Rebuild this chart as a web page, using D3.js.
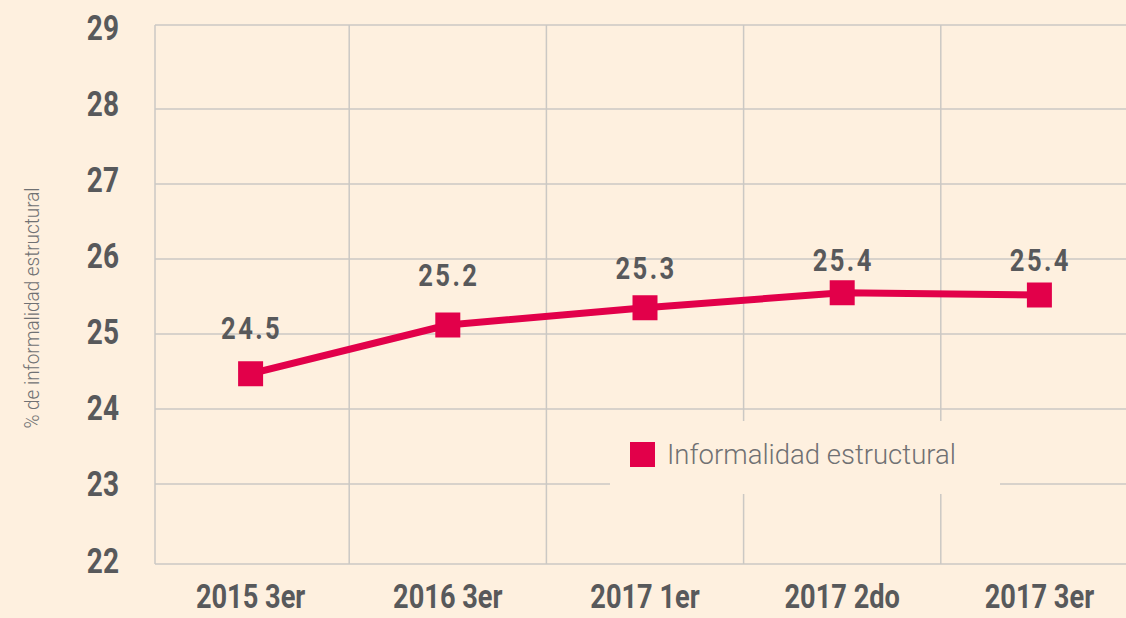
<!DOCTYPE html>
<html><head><meta charset="utf-8">
<script src="https://cdn.jsdelivr.net/npm/d3@7"></script>
<style>
html,body{margin:0;padding:0;background:#fef0df;}
svg{display:block;}
</style></head>
<body>
<svg id="chart" width="1126" height="618"></svg>
<script>
const categories = ["2015 3er","2016 3er","2017 1er","2017 2do","2017 3er"];
const values = [24.47, 25.12, 25.35, 25.55, 25.52];
const valueLabels = ["24.5","25.2","25.3","25.4","25.4"];
const yTicks = [22,23,24,25,26,27,28,29];
const seriesName = "Informalidad estructural";
const yTitle = "% de informalidad estructural";

const W = 1126, H = 618;
const bg = "#fef0df", red = "#e2004a", grid = "#cbc8c4", textDark = "#58595b", textLight = "#707173";
const condFont = "Roboto, 'DejaVu Sans Condensed', sans-serif";
const sx = 0.8;
const svg = d3.select("#chart");
svg.append("rect").attr("width", W).attr("height", H).attr("fill", bg);

const x = d3.scaleBand().domain(categories).range([152, 1138]).padding(0);
const y = d3.scaleLinear().domain([22, 29]).range([559, 34]);
const yLab = d3.scaleLinear().domain([22, 29]).range([560, 27]);
const frameLeft = 155, frameTop = 25, frameBottom = 564;
const cx = c => x(c) + x.bandwidth() / 2;

// horizontal gridlines
svg.append("g").selectAll("line").data(yTicks.filter(t => t > 22 && t < 29)).join("line")
  .attr("x1", frameLeft).attr("x2", W).attr("y1", d => y(d)).attr("y2", d => y(d))
  .attr("stroke", grid).attr("stroke-width", 1.5);
[frameTop, frameBottom].forEach(v => svg.append("line").attr("x1", frameLeft).attr("x2", W)
  .attr("y1", v).attr("y2", v).attr("stroke", grid).attr("stroke-width", 1.5));
svg.append("g").selectAll("line").data(categories.slice(1)).join("line")
  .attr("x1", d => x(d)).attr("x2", d => x(d)).attr("y1", frameTop).attr("y2", frameBottom)
  .attr("stroke", grid).attr("stroke-width", 1.5);
svg.append("line").attr("x1", frameLeft).attr("x2", frameLeft).attr("y1", frameTop).attr("y2", frameBottom)
  .attr("stroke", grid).attr("stroke-width", 1.5);

// y tick labels
svg.append("g").selectAll("text").data(yTicks).join("text")
  .attr("transform", d => `translate(119,${yLab(d)}) scale(${sx},1)`)
  .attr("dy", "0.36em").attr("text-anchor", "end")
  .attr("font-family", condFont).attr("font-weight", "bold").attr("font-size", 35).attr("fill", textDark)
  .text(d => d);

// x labels
svg.append("g").selectAll("text").data(categories).join("text")
  .attr("transform", d => `translate(${cx(d)},608) scale(${sx},1)`)
  .attr("text-anchor", "middle")
  .attr("font-family", condFont).attr("font-weight", "bold").attr("font-size", 34).attr("fill", textDark)
  .text(d => d);

// y title
svg.append("text")
  .attr("transform", "translate(39,308) rotate(-90) scale(0.9,1)")
  .attr("text-anchor", "middle")
  .attr("font-family", "Roboto, sans-serif").attr("font-weight", 300)
  .attr("font-size", 21).attr("fill", textLight)
  .text(yTitle);

// legend
svg.append("rect").attr("x", 610).attr("y", 421).attr("width", 390).attr("height", 73).attr("fill", bg);
svg.append("rect").attr("x", 630).attr("y", 442).attr("width", 25).attr("height", 25).attr("fill", red);
svg.append("text").attr("x", 667).attr("y", 464)
  .attr("font-family", "Roboto, sans-serif").attr("font-weight", 300)
  .attr("font-size", 27.5).attr("fill", textLight).text(seriesName);

// line
const pts = categories.map((c, i) => ({c, v: values[i], label: valueLabels[i]}));
const line = d3.line().x(d => cx(d.c)).y(d => y(d.v));
svg.append("path").datum(pts).attr("d", line)
  .attr("fill", "none").attr("stroke", red).attr("stroke-width", 7).attr("stroke-linejoin", "round");
svg.append("g").selectAll("rect").data(pts).join("rect")
  .attr("x", d => cx(d.c) - 12.5).attr("y", d => y(d.v) - 12.5)
  .attr("width", 25).attr("height", 25).attr("fill", red);

// value labels
svg.append("g").selectAll("text").data(pts).join("text")
  .attr("transform", d => `translate(${cx(d.c) + 1},${y(+d.label) - 33}) scale(${sx},1)`)
  .attr("text-anchor", "middle")
  .attr("font-family", condFont).attr("font-weight", "bold").attr("font-size", 32)
  .attr("letter-spacing", 3).attr("fill", textDark)
  .text(d => d.label);
</script>
</body></html>
